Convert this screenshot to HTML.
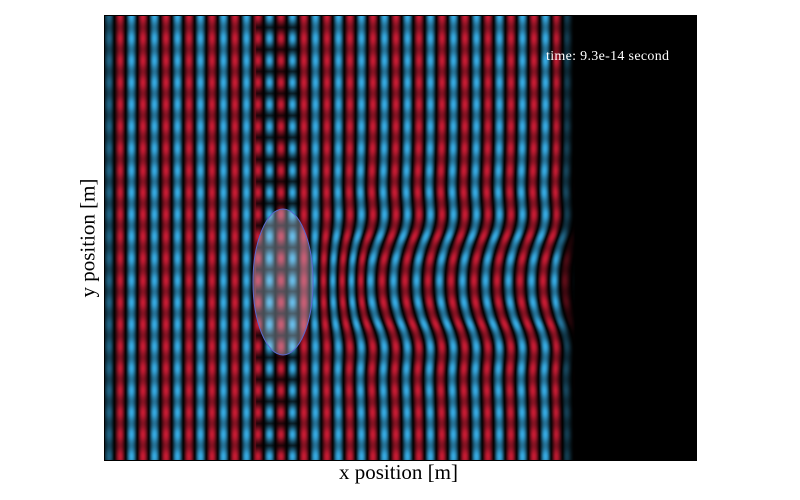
<!DOCTYPE html>
<html><head><meta charset="utf-8"><style>
body{margin:0;background:#fff;width:800px;height:500px;overflow:hidden;position:relative;font-family:"Liberation Serif",serif}
#plot{position:absolute;left:104px;top:15px;width:593px;height:446px;border:1px solid #000;box-sizing:border-box;background:#000}
canvas{position:absolute;left:0;top:0}
</style></head><body>
<div id="plot">
<canvas id="c" width="591" height="444"></canvas>
<svg width="591" height="444" style="position:absolute;left:0;top:0">
<ellipse cx="178" cy="266" rx="30" ry="73" fill="rgba(200,220,240,0.35)" stroke="#5a6ad0" stroke-width="1"/>
<text x="441" y="44" fill="#fff" font-size="14" textLength="123" font-family="Liberation Serif,serif">time: 9.3e-14 second</text>
</svg>
</div>
<div style="position:absolute;left:339px;top:460px;font-size:21px;white-space:nowrap">x position [m]</div>
<div style="position:absolute;left:88px;top:238px;transform:translate(-50%,-50%) rotate(-90deg);font-size:21px;white-space:nowrap">y position [m]</div>
<script>
const wavelength=[23];
const firstBlue=[26];
const frontX=[450];
const lens=[178,266,30,73];
const W=591,H=444;
const cv=document.getElementById('c');const ctx=cv.getContext('2d');
const img=ctx.createImageData(W,H);
const k=2*Math.PI/wavelength[0];
for(let y=0;y<H;y++){for(let x=0;x<W;x++){
  let d=0;
  const dy=y-lens[1];
  if(x>lens[0]+25){const g=Math.min(1,(x-lens[0]-25)/60);d=g*(-14*Math.exp(-(dy*dy)/(70*70))+6*Math.exp(-((Math.abs(dy)-60)**2)/(25*25)));}
  let f=Math.cos(k*(x-firstBlue[0]-d)+Math.PI);
  f*=0.85+0.15*Math.cos(2*Math.PI*y/22);
  if(x>150&&x<195){const m=0.3+0.7*Math.abs(Math.cos(Math.PI*y/22));f*=m;}
  let a=1;
  if(x>frontX[0])a=Math.max(0,1-(x-frontX[0])/20);
  if(x<15)a*=0.5+x/30;
  let v=f*a;let s=Math.pow(Math.abs(v),1.1);
  let r,gg,b;
  if(v>0){r=200*s;gg=28*s;b=52*s;}else{r=55*s;gg=172*s;b=228*s;}
  const i=(y*W+x)*4;img.data[i]=r;img.data[i+1]=gg;img.data[i+2]=b;img.data[i+3]=255;
}}
ctx.putImageData(img,0,0);
</script>
</body></html>
